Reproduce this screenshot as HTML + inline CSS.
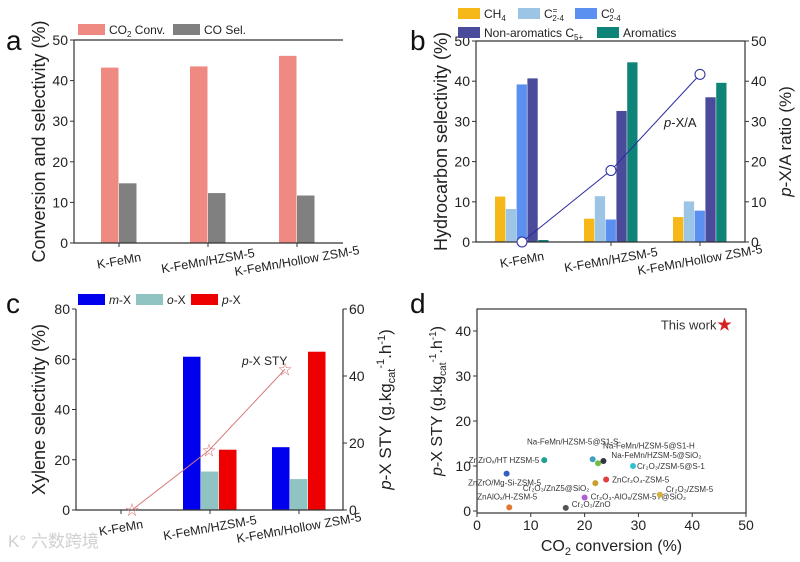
<!DOCTYPE html>
<html><head><meta charset="utf-8">
<style>
html,body{margin:0;padding:0;background:#fff;}
svg{display:block;font-family:"Liberation Sans","Noto Sans CJK SC",sans-serif;}
</style></head>
<body>
<svg id="fig" width="800" height="562" viewBox="0 0 800 562" xmlns="http://www.w3.org/2000/svg">
<text x="8" y="547" font-size="17" fill="#d0d0d0">K° 六数跨境</text>
</svg>
<script>
// ---------- data ----------
const cats = ["K-FeMn","K-FeMn/HZSM-5","K-FeMn/Hollow ZSM-5"];
const aCO2 = [43.2, 43.5, 46.1];
const aCO = [14.7, 12.3, 11.7];
const bCH4 = [11.3, 5.8, 6.2];
const bC24e = [8.2, 11.4, 10.1];
const bC24o = [39.2, 5.6, 7.8];
const bNonArom = [40.7, 32.6, 36.0];
const bArom = [0.5, 44.7, 39.6];
const bPXA = [0, 17.8, 41.7];
const cMX = [0, 61, 25];
const cOX = [0, 15.3, 12.3];
const cPX = [0, 24, 63];
const cSTY = [0, 17.8, 42];
const ticks50 = [0,10,20,30,40,50];
const ticks80 = [0,20,40,60,80];
const ticks60 = [0,20,40,60];
const dX = [46, 6, 16.5, 20, 22, 24, 34, 5.5, 12.5, 21.5, 22.5, 23.5, 29];
const dY = [41.5, 0.8, 0.7, 3.0, 6.2, 7.0, 3.6, 8.3, 11.3, 11.5, 10.6, 11.1, 10.0];
const dLabels = ["This work","ZnAlO\u2093/H-ZSM-5","Cr\u2082O\u2083/ZnO","Cr\u2082O\u2083-AlO\u2093/ZSM-5T@SiO\u2082","Cr\u2082O\u2083/ZnZ5@SiO\u2082","ZnCr\u2082O\u2084-ZSM-5","Cr\u2082O\u2083/ZSM-5","ZnZrO/Mg-Si-ZSM-5","ZnZrO\u2093/HT HZSM-5","Na-FeMn/HZSM-5@S1-S","Na-FeMn/HZSM-5@S1-H","Na-FeMn/HZSM-5@SiO\u2082","Cr\u2082O\u2083/ZSM-5@S-1"];
const dColors = ["#d42020","#e07830","#555555","#b060d0","#c8a030","#e04040","#d8b040","#3060c0","#20a090","#40a0c0","#70c040","#333344","#30c0d0"];
const dTicksX = [0,10,20,30,40,50];
const dTicksY = [0,10,20,30,40];

const svg = document.getElementById('fig');
const NS = "http://www.w3.org/2000/svg";
function mk(tag, attrs, parent){const e=document.createElementNS(NS,tag);for(const k in attrs)e.setAttribute(k,attrs[k]);(parent||svg).appendChild(e);return e;}
function txt(x,y,s,size,attrs,parent){const e=mk('text',Object.assign({x:x,y:y,'font-size':size,fill:'#222'},attrs||{}),parent);e.innerHTML=s;return e;}

function panel(o){
  const g=mk('g',{});
  
  
  const L=o.L,R=o.R,T=o.T,B=o.B;
  const y=v=>B-(v/o.ymax)*(B-T);
  const yr=v=>B-(v/o.rmax)*(B-T);
  const xc=i=>o.c0+i*o.step;
  o.series.forEach((s,si)=>{
    s.vals.forEach((v,i)=>{
      if(v<=0) return;
      const x=xc(i)-o.bw*o.series.length/2+si*o.bw;
      const r=mk('rect',{x:x,y:y(v),width:o.bw-0.5,height:B-y(v),fill:s.color},g);
      
      
    });
  });
  const ax=mk('path',{d:`M${L},${T}V${B}H${R}`+(o.rmax?`V${T}`:'')+(o.top?`M${L},${T}H${R}`:''),stroke:'#333','stroke-width':1.2,fill:'none'},g);
  
  
  o.ticks.forEach(t=>{
    mk('line',{x1:L-4,x2:L,y1:y(t),y2:y(t),stroke:'#333'},g);
    const e=txt(L-6,y(t)+5,t,14,{'text-anchor':'end'},g);
    
    
  });
  if(o.rmax){
    o.rticks.forEach(t=>{
      mk('line',{x1:R,x2:R+4,y1:yr(t),y2:yr(t),stroke:'#333'},g);
      const e=txt(R+6,yr(t)+5,t,14,{},g);
      
      
    });
  }
  cats.forEach((c,i)=>{
    mk('line',{x1:xc(i),x2:xc(i),y1:B,y2:B+4,stroke:'#333'},g);
    const e=txt(xc(i),B+22,c,12.5,{'text-anchor':'middle',transform:`rotate(-10 ${xc(i)} ${B+18})`},g);
    
    
  });
  if(o.line){
    const pts=o.line.vals.map((v,i)=>[o.line.xs?o.line.xs[i]:xc(i),yr(v)]);
    const pl=mk('polyline',{points:pts.map(p=>p.join(',')).join(' '),fill:'none',stroke:o.line.color,'stroke-width':1},g);
    
    
    pts.forEach(p=>{
      let m;
      if(o.line.marker==='circle') m=mk('circle',{cx:p[0],cy:p[1],r:5,fill:'#fff',stroke:o.line.color,'stroke-width':1},g);
      else m=txt(p[0],p[1]+5,'☆',14,{'text-anchor':'middle',fill:o.line.color},g);
      
      
    });
  }
  const yt=txt(0,0,o.ytitle,18,{'text-anchor':'middle',transform:`translate(${o.ytx},${(T+B)/2}) rotate(-90)`},g);
  
  
  if(o.rtitle){
    const rt=txt(0,0,o.rtitle,17,{'text-anchor':'middle',transform:`translate(${o.rtx},${(T+B)/2}) rotate(-90)`},g);
    
    
  }
  const pl=txt(o.lx,o.ly,o.letter,28,{fill:'#111'},g);
  
  
  return g;
}
function legend(items,g){
  items.forEach(it=>{
    const r=mk('rect',{x:it.x,y:it.y,width:it.w||27,height:11,fill:it.color},g);
    
    
    const t=txt(it.x+(it.w||27)+4,it.y+10,it.label,12,{},g);
    
    
  });
}

const ga=panel({name:'panel-a',L:74,R:343,T:40,B:243,top:true,ymax:50,ticks:ticks50,c0:119,step:89,bw:18,
  series:[{key:'co2-conv',vals:aCO2,color:'#ef8a82'},{key:'co-sel',vals:aCO,color:'#808080'}],
  ytitle:'Conversion and selectivity (%)',ytx:45,letter:'a',lx:6,ly:50});
legend([{x:78,y:24,color:'#ef8a82',label:'CO<tspan font-size="8" dy="3">2</tspan><tspan dy="-3"> Conv.</tspan>'},{x:173,y:24,color:'#808080',label:'CO Sel.'}],ga);

const gb=panel({name:'panel-b',L:476,R:745,T:41,B:242,top:true,ymax:50,ticks:ticks50,rmax:50,rticks:ticks50,c0:522,step:89,bw:10.8,
  series:[{key:'ch4',vals:bCH4,color:'#f5b818'},{key:'c24-ene',vals:bC24e,color:'#9cc4e4'},{key:'c24-ane',vals:bC24o,color:'#5b8ff0'},{key:'non-aromatics',vals:bNonArom,color:'#4a4b9a'},{key:'aromatics',vals:bArom,color:'#0e8478'}],
  line:{vals:bPXA,color:'#2a2aa0',marker:'circle'},
  ytitle:'Hydrocarbon selectivity (%)',ytx:447,rtitle:'<tspan font-style="italic">p</tspan>-X/A ratio (%)',rtx:791,letter:'b',lx:410,ly:50});
legend([{x:458,y:8,color:'#f5b818',w:22,label:'CH<tspan font-size="8" dy="3">4</tspan>'},
 {x:518,y:8,color:'#9cc4e4',w:22,label:'C<tspan font-size="8" dy="-5">=</tspan><tspan font-size="8" dx="-5" dy="8">2-4</tspan>'},
 {x:575,y:8,color:'#5b8ff0',w:22,label:'C<tspan font-size="8" dy="-5">o</tspan><tspan font-size="8" dx="-5" dy="8">2-4</tspan>'},
 {x:458,y:27,color:'#4a4b9a',w:22,label:'Non-aromatics C<tspan font-size="8" dy="3">5+</tspan>'},
 {x:597,y:27,color:'#0e8478',w:22,label:'Aromatics'}],gb);
const pxa=txt(664,127,'<tspan font-style="italic">p</tspan>-X/A',13,{},gb);



const gc=panel({name:'panel-c',L:76,R:343,T:309,B:510,top:false,ymax:80,ticks:ticks80,rmax:60,rticks:ticks60,c0:121,step:89,bw:18,
  series:[{key:'m-x',vals:cMX,color:'#0000ee'},{key:'o-x',vals:cOX,color:'#90c4c2'},{key:'p-x',vals:cPX,color:'#ee0000'}],
  line:{vals:cSTY,color:'#d87878',marker:'star',xs:[132,209,285]},
  ytitle:'Xylene selectivity (%)',ytx:45,rtitle:'<tspan font-style="italic">p</tspan>-X STY (g.kg<tspan font-size="11" dy="4">cat</tspan><tspan font-size="11" dy="-11">-1</tspan><tspan dy="7">.h</tspan><tspan font-size="11" dy="-6">-1</tspan><tspan dy="6">)</tspan>',rtx:391,letter:'c',lx:6,ly:313});
legend([{x:78,y:294,color:'#0000ee',label:'<tspan font-style="italic">m</tspan>-X'},{x:136,y:294,color:'#90c4c2',label:'<tspan font-style="italic">o</tspan>-X'},{x:191,y:294,color:'#ee0000',label:'<tspan font-style="italic">p</tspan>-X'}],gc);
const sty=txt(242,365,'<tspan font-style="italic">p</tspan>-X STY',12,{},gc);



(function(){
  const g=mk('g',{});
  
  
  const L=477,R=746,T=309,B=513;
  const x=v=>L+v/50*(R-L);
  const y=v=>511-v*4.5;
  mk('rect',{x:L,y:T,width:R-L,height:B-T,fill:'none',stroke:'#333','stroke-width':1.2},g);
  dTicksX.forEach(t=>{mk('line',{x1:x(t),x2:x(t),y1:B,y2:B+4,stroke:'#333'},g);
    const e=txt(x(t),B+17,t,14,{'text-anchor':'middle'},g);
    });
  dTicksY.forEach(t=>{mk('line',{x1:L-4,x2:L,y1:y(t),y2:y(t),stroke:'#333'},g);
    const e=txt(L-6,y(t)+5,t,14,{'text-anchor':'end'},g);
    });
  const xt=txt((L+R)/2,B+38,'CO<tspan font-size="11" dy="4">2</tspan><tspan dy="-4"> conversion (%)</tspan>',16,{'text-anchor':'middle'},g);
  
  const yt=txt(0,0,'<tspan font-style="italic">p</tspan>-X STY (g.kg<tspan font-size="10" dy="4">cat</tspan><tspan font-size="10" dy="-10">-1</tspan><tspan dy="6">.h</tspan><tspan font-size="10" dy="-6">-1</tspan><tspan dy="6">)</tspan>',16,{'text-anchor':'middle',transform:`translate(442,${(T+B)/2-10}) rotate(-90)`},g);
  
  const lbl=[[-8,5,'end'],[-2,-8,'middle'],[6,-1,'start'],[6,2,'start'],[-6,8,'end'],[6,3,'start'],[6,-3,'start'],[-2,12,'middle'],[-5,3,'end'],[-20,-15,'middle'],[5,-15,'start'],[8,-3,'start'],[4,3,'start']];
  dX.forEach((v,i)=>{
    const cx=x(v),cy=y(dY[i]);
    let m;
    if(i===0) m=txt(cx,cy+5,'★',15,{'text-anchor':'middle',fill:dColors[i]},g);
    else m=mk('circle',{cx:cx,cy:cy,r:3,fill:dColors[i]},g);
    
    
    const off=lbl[i];
    const t=txt(cx+off[0],cy+off[1],dLabels[i],i===0?13:8,{'text-anchor':off[2],fill:'#333'},g);
    
    
  });
  const pl=txt(410,313,'d',28,{fill:'#111'},g);
  
})();
</script>
</body></html>
